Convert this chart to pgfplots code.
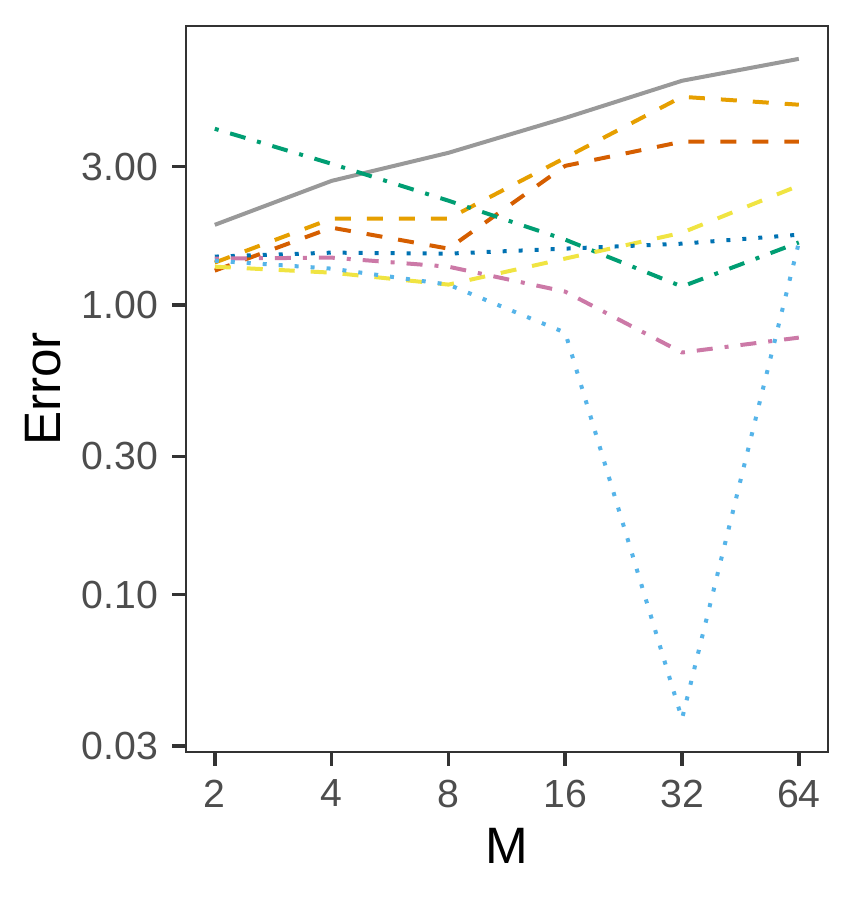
\documentclass[border=0pt]{standalone}
\usepackage{pgfplots}
\pgfplotsset{compat=1.18}
\usepackage{fontspec}
\setmainfont{Liberation Sans}
\definecolor{cgray}{HTML}{999999}
\definecolor{corange}{HTML}{E69F00}
\definecolor{csky}{HTML}{56B4E9}
\definecolor{cgreen}{HTML}{009E73}
\definecolor{cyellow}{HTML}{F0E442}
\definecolor{cblue}{HTML}{0072B2}
\definecolor{cverm}{HTML}{D55E00}
\definecolor{cpink}{HTML}{CC79A7}
\definecolor{gtext}{HTML}{4D4D4D}
\definecolor{gline}{HTML}{333333}
\begin{document}
\begin{tikzpicture}
\useasboundingbox (0,0) rectangle (213.75pt,225pt);
\begin{axis}[
  at={(46.4pt,37pt)}, anchor=south west,
  scale only axis, width=160.6pt, height=181.5pt,
  xmode=log, log basis x=2, ymode=log,
  xmin=1.6818, xmax=76.1, ymin=0.0286, ymax=9.18,
  xtick={2,4,8,16,32,64}, xticklabels={2,4,8,16,32,64},
  ytick={0.03,0.1,0.3,1,3}, yticklabels={0.03,0.10,0.30,1.00,3.00},
  minor tick num=0,
  xtick pos=bottom, ytick pos=left,
  tick align=outside, major tick length=3.4pt,
  every tick/.style={gline, line width=0.9pt},
  axis line style={gline, line width=0.55pt},
  /pgf/number format/assume math mode=true,
  tick label style={font=\fontsize{9.8}{10}\selectfont, text=gtext},
  xlabel={M}, ylabel={Error},
  every axis x label/.style={at={(axis description cs:0.5,-0.1287)}, anchor=center, font=\fontsize{12.8}{13}\selectfont, text=black},
  every axis y label/.style={at={(axis description cs:-0.2214,0.5)}, rotate=90, anchor=center, font=\fontsize{12.8}{13}\selectfont, text=black},
  clip=false,
  every axis plot/.append style={line width=1pt, line cap=butt, line join=round, mark=none},
]
\addplot[cgray] coordinates {(2,1.89)(4,2.68)(8,3.35)(16,4.42)(32,5.94)(64,7.07)};
\addplot[corange, dash pattern=on 4pt off 4pt] coordinates {(2,1.40)(4,1.985)(8,1.985)(16,3.22)(32,5.23)(64,4.91)};
\addplot[cverm, dash pattern=on 4pt off 4pt] coordinates {(2,1.313)(4,1.848)(8,1.564)(16,3.02)(32,3.66)(64,3.66)};
\addplot[cgreen, dash pattern=on 1pt off 3pt on 4pt off 3pt] coordinates {(2,4.055)(4,3.07)(8,2.29)(16,1.68)(32,1.157)(64,1.643)};
\addplot[cyellow, dash pattern=on 4pt off 4pt] coordinates {(2,1.355)(4,1.292)(8,1.175)(16,1.445)(32,1.775)(64,2.58)};
\addplot[cblue, dash pattern=on 1pt off 3pt] coordinates {(2,1.468)(4,1.515)(8,1.503)(16,1.564)(32,1.627)(64,1.747)};
\addplot[cpink, dash pattern=on 1pt off 3pt on 4pt off 3pt] coordinates {(2,1.445)(4,1.456)(8,1.355)(16,1.111)(32,0.685)(64,0.771)};
\addplot[csky, dash pattern=on 1pt off 3pt] coordinates {(2,1.421)(4,1.334)(8,1.175)(16,0.802)(32,0.0372)(64,1.64)};
\end{axis}
\end{tikzpicture}
\end{document}
